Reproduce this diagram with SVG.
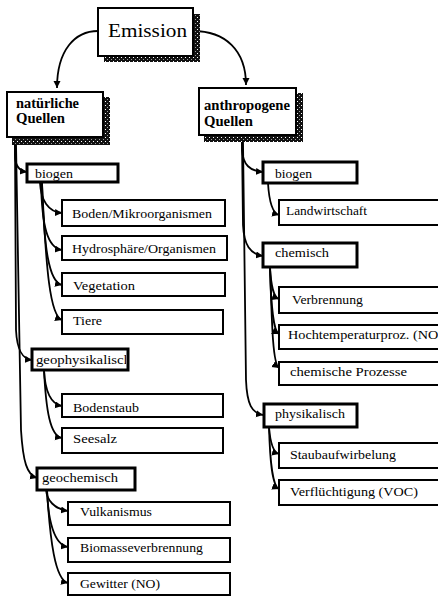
<svg xmlns="http://www.w3.org/2000/svg" width="438" height="597" viewBox="0 0 438 597">
<defs>
<pattern id="stip" width="4" height="4" patternUnits="userSpaceOnUse">
<rect width="4" height="4" fill="#111"/>
<rect x="1" y="1" width="1" height="1" fill="#fff"/>
<rect x="3" y="3" width="1" height="1" fill="#999"/>
</pattern>
<marker id="arr" markerWidth="8" markerHeight="8" refX="7" refY="3.5" orient="auto" markerUnits="userSpaceOnUse">
<path d="M0,0 L7,3.5 L0,7 z" fill="#000"/>
</marker>
<clipPath id="clipGeo"><rect x="33" y="350" width="93" height="19"/></clipPath>
</defs>
<style>
text{font-family:"Liberation Serif","Times New Roman",serif;fill:#000}
.t{font-size:13px}
.main{fill:#fff;stroke:#000;stroke-width:2}
.shadow{fill:url(#stip)}
.cat{fill:#fff;stroke:#000;stroke-width:3}
.leaf{fill:#fff;stroke:#000;stroke-width:2}
.bold{font-weight:bold;font-size:14px}
#connectors path{fill:none;stroke:#000;stroke-width:1.8;marker-end:url(#arr)}
</style>
<rect width="438" height="597" fill="#fff"/>

<g id="connectors">
<path d="M98 31 C75 31 57 50 57 88"/>
<path d="M193 31 C225 31 246 50 246 85"/>
<path d="M15 143 L15 155 C15 165 19 171 27 172"/>
<path d="M15 143 L16 330 C17 350 22 359 32 360"/>
<path d="M16 143 L21 430 C23 462 27 475 37 478"/>
<path d="M40 183 C41 200 48 212 62 213"/>
<path d="M41 183 C42 225 47 248 62 250"/>
<path d="M42 183 C44 250 49 282 62 285"/>
<path d="M42 183 C46 270 50 316 62 320"/>
<path d="M44 370 C45 390 50 404 62 406"/>
<path d="M44 370 C46 410 50 436 62 438"/>
<path d="M46 490 C47 500 54 509 68 511"/>
<path d="M47 490 C48 520 54 545 68 547"/>
<path d="M47 490 C50 540 55 580 68 583"/>
<path d="M242 142 L242 150 C243 165 250 171 263 172"/>
<path d="M242 142 L243 225 C244 245 250 254 263 256"/>
<path d="M243 142 L246 380 C247 405 252 413 263 415"/>
<path d="M268 183 C269 200 272 213 279 215"/>
<path d="M270 267 C271 285 273 297 279 299"/>
<path d="M270 267 C271 305 273 331 279 334"/>
<path d="M270 267 C272 330 273 364 279 368"/>
<path d="M269 427 C270 440 272 452 279 454"/>
<path d="M269 427 C270 460 272 486 279 489"/>
</g>

<g id="emission">
<rect class="shadow" x="104" y="14" width="96" height="48"/>
<rect class="main" x="98" y="8" width="95" height="48"/>
<text x="108" y="37" font-size="19" textLength="79" lengthAdjust="spacingAndGlyphs">Emission</text>
</g>
<g id="natuerliche">
<rect class="shadow" x="12" y="97" width="98" height="48"/>
<rect class="main" x="7" y="92" width="96" height="45"/>
<text class="bold" x="16" y="108" textLength="63" lengthAdjust="spacingAndGlyphs">natürliche</text>
<text class="bold" x="16" y="123" textLength="49" lengthAdjust="spacingAndGlyphs">Quellen</text>
</g>
<g id="anthropogene">
<rect class="shadow" x="204" y="93" width="99" height="49"/>
<rect class="main" x="199" y="88" width="97" height="47"/>
<text class="bold" x="204" y="110" textLength="86" lengthAdjust="spacingAndGlyphs">anthropogene</text>
<text class="bold" x="204" y="126" textLength="49" lengthAdjust="spacingAndGlyphs">Quellen</text>
</g>

<g id="n-biogen"><rect class="cat" x="27" y="164" width="91" height="18"/><text class="t" x="35" y="178" textLength="38" lengthAdjust="spacingAndGlyphs">biogen</text></g>
<g id="boden"><rect class="leaf" x="62" y="200" width="163" height="26"/><text class="t" x="72" y="218" textLength="140" lengthAdjust="spacingAndGlyphs">Boden/Mikroorganismen</text></g>
<g id="hydro"><rect class="leaf" x="62" y="236" width="165" height="24"/><text class="t" x="72" y="253" textLength="144" lengthAdjust="spacingAndGlyphs">Hydrosphäre/Organismen</text></g>
<g id="vegetation"><rect class="leaf" x="62" y="273" width="163" height="23"/><text class="t" x="73" y="290" textLength="62" lengthAdjust="spacingAndGlyphs">Vegetation</text></g>
<g id="tiere"><rect class="leaf" x="62" y="310" width="161" height="24"/><text class="t" x="73" y="325" textLength="29" lengthAdjust="spacingAndGlyphs">Tiere</text></g>
<g id="geophys"><rect class="cat" x="32" y="349" width="96" height="21"/><text class="t" x="36" y="364" clip-path="url(#clipGeo)" textLength="95" lengthAdjust="spacingAndGlyphs">geophysikalisch</text></g>
<g id="bodenstaub"><rect class="leaf" x="62" y="394" width="161" height="23"/><text class="t" x="73" y="412" textLength="66" lengthAdjust="spacingAndGlyphs">Bodenstaub</text></g>
<g id="seesalz"><rect class="leaf" x="62" y="428" width="161" height="25"/><text class="t" x="73" y="443" textLength="44" lengthAdjust="spacingAndGlyphs">Seesalz</text></g>
<g id="geochem"><rect class="cat" x="37" y="468" width="98" height="22"/><text class="t" x="42" y="482" textLength="76" lengthAdjust="spacingAndGlyphs">geochemisch</text></g>
<g id="vulkan"><rect class="leaf" x="68" y="502" width="162" height="23"/><text class="t" x="80" y="516" textLength="72" lengthAdjust="spacingAndGlyphs">Vulkanismus</text></g>
<g id="biomasse"><rect class="leaf" x="68" y="538" width="162" height="24"/><text class="t" x="80" y="552" textLength="123" lengthAdjust="spacingAndGlyphs">Biomasseverbrennung</text></g>
<g id="gewitter"><rect class="leaf" x="68" y="573" width="162" height="22"/><text class="t" x="80" y="588" textLength="80" lengthAdjust="spacingAndGlyphs">Gewitter (NO)</text></g>

<g id="a-biogen"><rect class="cat" x="263" y="162" width="94" height="21"/><text class="t" x="275" y="178" textLength="37" lengthAdjust="spacingAndGlyphs">biogen</text></g>
<g id="landw"><rect class="leaf" x="279" y="200" width="170" height="25"/><text class="t" x="286" y="215" textLength="81" lengthAdjust="spacingAndGlyphs">Landwirtschaft</text></g>
<g id="chemisch"><rect class="cat" x="263" y="243" width="94" height="24"/><text class="t" x="275" y="257" textLength="54" lengthAdjust="spacingAndGlyphs">chemisch</text></g>
<g id="verbrennung"><rect class="leaf" x="279" y="287" width="170" height="26"/><text class="t" x="292" y="304" textLength="71" lengthAdjust="spacingAndGlyphs">Verbrennung</text></g>
<g id="hochtemp"><rect class="leaf" x="279" y="325" width="170" height="24"/><text class="t" x="288" y="339" textLength="155" lengthAdjust="spacingAndGlyphs">Hochtemperaturproz. (NO)</text></g>
<g id="chemproz"><rect class="leaf" x="279" y="362" width="170" height="23"/><text class="t" x="290" y="376" textLength="117" lengthAdjust="spacingAndGlyphs">chemische Prozesse</text></g>
<g id="physik"><rect class="cat" x="264" y="404" width="93" height="23"/><text class="t" x="275" y="418" textLength="70" lengthAdjust="spacingAndGlyphs">physikalisch</text></g>
<g id="staub"><rect class="leaf" x="279" y="443" width="170" height="25"/><text class="t" x="290" y="459" textLength="106" lengthAdjust="spacingAndGlyphs">Staubaufwirbelung</text></g>
<g id="verfl"><rect class="leaf" x="279" y="480" width="170" height="25"/><text class="t" x="290" y="496" textLength="128" lengthAdjust="spacingAndGlyphs">Verflüchtigung (VOC)</text></g>
</svg>
